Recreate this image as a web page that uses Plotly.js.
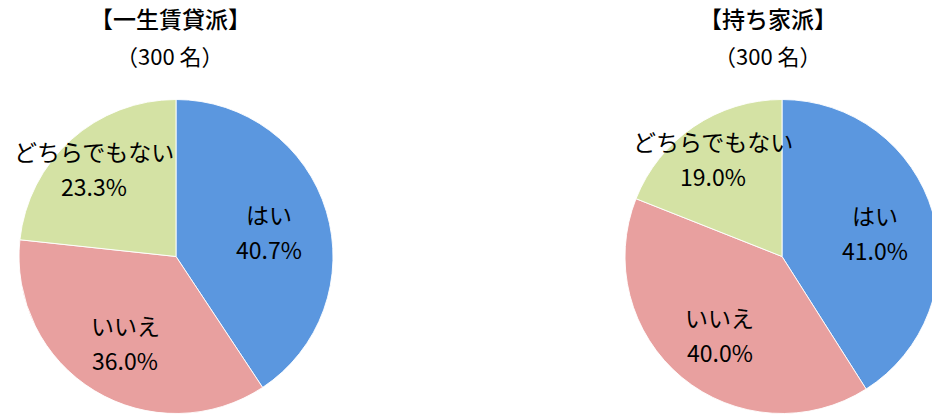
<!DOCTYPE html>
<html>
<head>
<meta charset="utf-8">
<script src="https://cdn.plot.ly/plotly-3.0.1.min.js"></script>
<style>
html,body{margin:0;padding:0;background:#fff;overflow:hidden;}
#chart{width:960px;height:417px;}
</style>
</head>
<body>
<div id="chart"></div>
<script>
// ---- data ----
const categories = ['はい', 'いいえ', 'どちらでもない'];
const rentValues = [40.7, 36.0, 23.3];
const ownValues = [41.0, 40.0, 19.0];
const groupTitles = ['【一生賃貸派】', '【持ち家派】'];
const groupCounts = ['（300 名）', '（300 名）'];

// ---- style ----
const W = 960, H = 417;
const colors = ['#5B97DF', '#E8A09F', '#D4E2A4'];
const FONT = '"Noto Sans CJK JP", "Noto Sans", sans-serif';
const pies = [
  {values: rentValues, cx: 176, cy: 256.5, r: 157, titleX: 170},
  {values: ownValues,  cx: 782, cy: 256.5, r: 157, titleX: 768}
];

const traces = pies.map(p => ({
  type: 'pie',
  labels: categories,
  values: p.values,
  sort: false,
  direction: 'clockwise',
  rotation: 0,
  marker: {colors: colors, line: {color: 'rgba(255,255,255,0.9)', width: 1}},
  textinfo: 'none',
  hoverinfo: 'label+percent',
  showlegend: false,
  domain: {
    x: [(p.cx - p.r) / W, (p.cx + p.r) / W],
    y: [1 - (p.cy + p.r) / H, 1 - (p.cy - p.r) / H]
  }
}));

const annotations = [];
pies.forEach((p, gi) => {
  annotations.push({
    xref: 'paper', yref: 'paper', x: p.titleX / W, y: 1 - 18 / H,
    text: groupTitles[gi], showarrow: false, xanchor: 'center', yanchor: 'middle',
    font: {family: FONT, size: 23, color: '#000', weight: 500}
  });
  annotations.push({
    xref: 'paper', yref: 'paper', x: p.titleX / W, y: 1 - 55 / H,
    text: groupCounts[gi], showarrow: false, xanchor: 'center', yanchor: 'middle',
    font: {family: FONT, size: 22, color: '#000'}
  });
  const total = p.values.reduce((a, b) => a + b, 0);
  let start = 0;
  p.values.forEach((v, i) => {
    const frac = v / total;
    const mid = (start + frac / 2) * 2 * Math.PI;
    start += frac;
    const rf = frac < 0.3 ? 0.78 : 0.62;
    const px = p.cx + rf * p.r * Math.sin(mid);
    const py = p.cy - rf * p.r * Math.cos(mid) + 3;
    annotations.push({
      xref: 'paper', yref: 'paper', x: px / W, y: 1 - (py - 17.5) / H,
      text: categories[i], showarrow: false, xanchor: 'center', yanchor: 'middle',
      font: {family: FONT, size: 23, color: '#000'}
    });
    annotations.push({
      xref: 'paper', yref: 'paper', x: px / W, y: 1 - (py + 17.5) / H,
      text: v.toFixed(1) + '%', showarrow: false, xanchor: 'center', yanchor: 'middle',
      font: {family: FONT, size: 23, color: '#000'}
    });
  });
});

const layout = {
  width: W, height: H,
  margin: {l: 0, r: 0, t: 0, b: 0},
  paper_bgcolor: '#fff',
  plot_bgcolor: '#fff',
  annotations: annotations,
  showlegend: false
};

Plotly.newPlot('chart', traces, layout, {displayModeBar: false, staticPlot: true});
</script>
</body>
</html>
